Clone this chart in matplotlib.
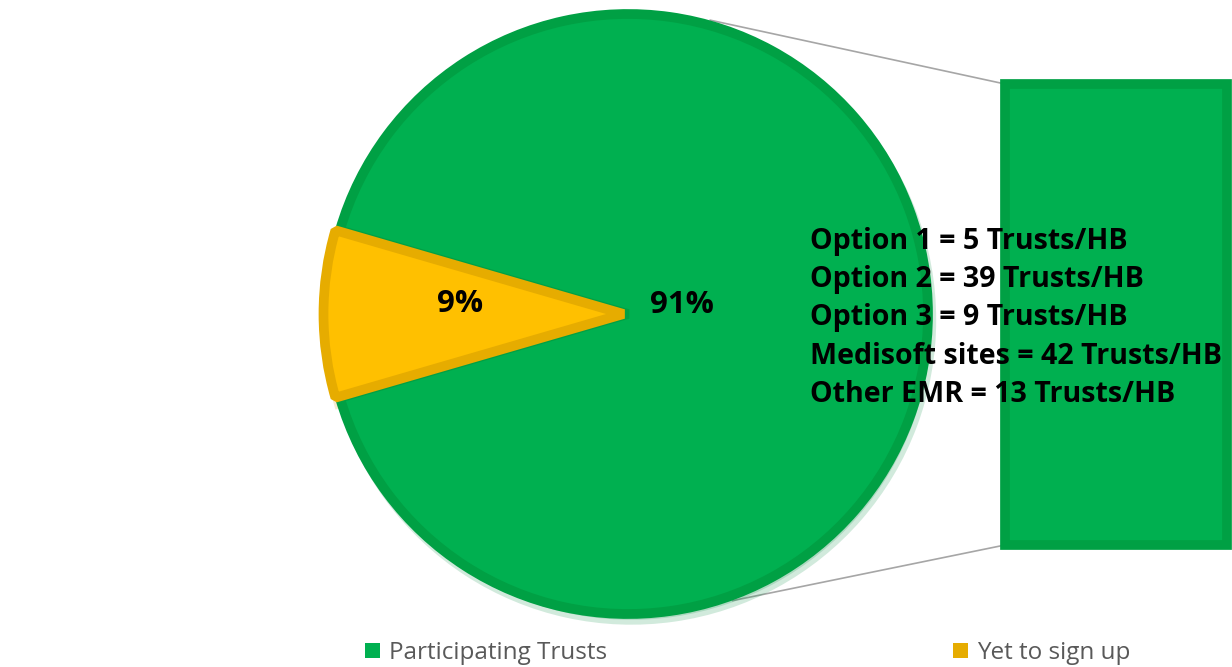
import matplotlib.pyplot as plt
from matplotlib.patches import ConnectionPatch, Patch
import numpy as np

# data
categories = ['Participating Trusts', 'Yet to sign up']
shares = [91, 9]
pct_labels = ['91%', '9%']
options = ['Option 1', 'Option 2', 'Option 3', 'Medisoft sites', 'Other EMR']
trust_counts = [5, 39, 9, 42, 13]

green = '#00B050'
green_edge = '#00A044'
amber = '#FFC000'
amber_edge = '#E6AC00'

W, H = 1232, 667
fig = plt.figure(figsize=(W / 100, H / 100), dpi=100)

def px_axes(x0, y0, x1, y1):
    # axes from pixel box (top-left origin)
    return fig.add_axes([x0 / W, 1 - y1 / H, (x1 - x0) / W, (y1 - y0) / H])

# pie axes: center (628, 314), radius 300 px
r = 300
lim = 1.1
cx, cy = 628, 314
ax = px_axes(cx - r * lim, cy - r * lim, cx + r * lim, cy + r * lim)

start = 180 + shares[1] / sum(shares) * 360 / 2
wedges, _ = ax.pie(shares, colors=[green, amber], startangle=start,
                   explode=[0, 0.015], radius=1, frame=True,
                   wedgeprops=dict(linewidth=7, joinstyle='bevel'),
                   shadow={'ox': 0.008, 'oy': -0.014, 'shade': 0.2, 'alpha': 0.18})
ax.set_xlim(-lim, lim)
ax.set_ylim(-lim, lim)
ax.set_aspect('equal')
ax.axis('off')
wedges[0].set_edgecolor(green_edge)
wedges[1].set_edgecolor(amber_edge)

ax.text(0.18, 0.03, pct_labels[0], ha='center', va='center', fontsize=22.5,
        fontweight='bold', family='Open Sans')
ax.text(-0.56, 0.035, pct_labels[1], ha='center', va='center', fontsize=22.5,
        fontweight='bold', family='Open Sans')

# bar of the participating share
bx = px_axes(1005, 84, 1227, 545)
bx.set_xlim(-0.5, 0.5)
bx.set_ylim(0, shares[0])
bx.axis('off')
bx.bar([0], [shares[0]], width=1, color=green, edgecolor=green_edge,
       linewidth=7, clip_on=False)

# connector lines
for ang, yb in [(74.4, shares[0]), (-70.0, 0)]:
    a = np.radians(ang)
    con = ConnectionPatch(xyA=(1.017 * np.cos(a), 1.017 * np.sin(a)), coordsA=ax.transData,
                          xyB=(-0.5, yb), coordsB=bx.transData,
                          color='#A6A6A6', linewidth=1.2, zorder=-1)
    fig.add_artist(con)

# option breakdown text
for i, (o, n) in enumerate(zip(options, trust_counts)):
    fig.text(810 / W, 1 - (241 + i * 38.5) / H, f'{o} = {n} Trusts/HB',
             ha='left', va='center', fontsize=20.6, fontweight='bold',
             family='Open Sans', color='black')

# legend
handles = [Patch(facecolor=green, edgecolor='none'),
           Patch(facecolor=amber_edge, edgecolor='none')]
fig.legend(handles, categories, loc='center left',
           bbox_to_anchor=(365 / W, 1 - 653 / H), ncol=2, frameon=False,
           prop={'family': 'Open Sans', 'size': 17.5}, labelcolor='#595959',
           handlelength=0.62, handleheight=0.62, handletextpad=0.35,
           columnspacing=14.25, borderaxespad=0, borderpad=0)

fig.savefig('out.png', dpi=100, facecolor='white')
